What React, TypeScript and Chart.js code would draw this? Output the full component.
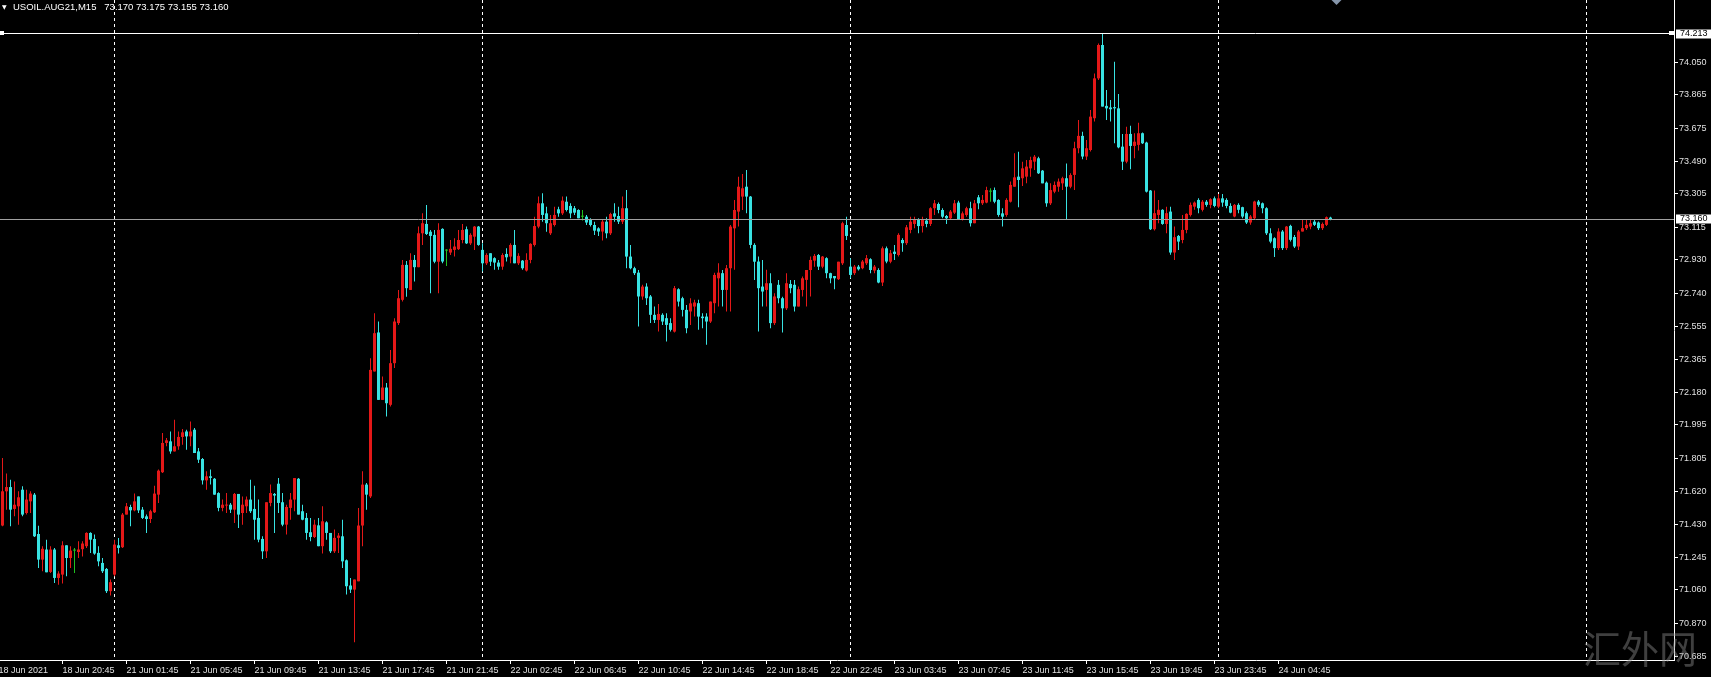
import React, { useEffect, useRef } from "react";
import { Chart, registerables } from "chart.js";

Chart.register(...registerables);

// ---- data (M15 candles, index 0 = 18 Jun 16:45) ----
const opens = [
  71.45, 71.425, 71.619, 71.643, 71.519, 71.534, 71.628, 71.496, 71.562, 71.6,
  71.377, 71.232, 71.289, 71.162, 71.289, 71.128, 71.147, 71.313, 71.241, 71.283,
  71.275, 71.291, 71.308, 71.383, 71.349, 71.27, 71.213, 71.179, 71.053, 71.147,
  71.313, 71.302, 71.487, 71.53, 71.511, 71.59, 71.515, 71.477, 71.462, 71.5,
  71.6, 71.727, 71.893, 71.902, 71.845, 71.874, 71.927, 71.958, 71.93, 71.968,
  71.845, 71.802, 71.681, 71.704, 71.69, 71.609, 71.525, 71.538, 71.543, 71.515,
  71.604, 71.496, 71.534, 71.572, 71.519, 71.468, 71.349, 71.279, 71.553, 71.604,
  71.662, 71.557, 71.43, 71.525, 71.572, 71.69, 71.506, 71.468, 71.387, 71.36,
  71.426, 71.308, 71.443, 71.383, 71.279, 71.355, 71.364, 71.228, 71.085, 71.062,
  71.109, 71.425, 71.657, 71.59, 72.298, 72.519, 72.137, 72.207, 72.109, 72.345,
  72.572, 72.704, 72.902, 72.76, 72.93, 72.889, 73.081, 73.134, 73.09, 73.072,
  72.92, 73.106, 72.983, 72.972, 72.987, 72.991, 73.043, 73.104, 73.024, 73.062,
  73.119, 72.987, 72.911, 72.968, 72.94, 72.915, 72.892, 72.964, 72.949, 73.015,
  72.911, 72.926, 72.87, 72.93, 73.015, 73.119, 73.251, 73.194, 73.081, 73.128,
  73.217, 73.194, 73.26, 73.236, 73.223, 73.213, 73.175, 73.175, 73.157, 73.128,
  73.109, 73.091, 73.147, 73.081, 73.194, 73.179, 73.147, 73.223, 72.949, 72.883,
  72.858, 72.723, 72.779, 72.723, 72.619, 72.59, 72.619, 72.6, 72.572, 72.524,
  72.764, 72.713, 72.647, 72.638, 72.666, 72.685, 72.609, 72.609, 72.581, 72.685,
  72.826, 72.855, 72.76, 72.883, 73.109, 73.204, 73.289, 73.345, 73.289, 73.015,
  72.921, 72.779, 72.76, 72.798, 72.572, 72.789, 72.713, 72.656, 72.794, 72.789,
  72.666, 72.76, 72.817, 72.873, 72.926, 72.958, 72.892, 72.94, 72.855, 72.839,
  72.821, 72.911, 73.128, 72.892, 72.855, 72.892, 72.883, 72.911, 72.934, 72.87,
  72.873, 72.802, 72.996, 72.92, 72.977, 72.958, 73.043, 73.025, 73.1, 73.134,
  73.16, 73.122, 73.153, 73.134, 73.223, 73.247, 73.213, 73.179, 73.166, 73.198,
  73.255, 73.16, 73.185, 73.223, 73.138, 73.285, 73.251, 73.255, 73.317, 73.326,
  73.27, 73.194, 73.185, 73.26, 73.345, 73.402, 73.393, 73.402, 73.449, 73.487,
  73.506, 73.436, 73.368, 73.251, 73.317, 73.345, 73.364, 73.393, 73.345, 73.412,
  73.563, 73.633, 73.516, 73.553, 73.733, 73.959, 74.148, 73.803, 73.794, 73.796,
  73.789, 73.572, 73.487, 73.644, 73.576, 73.582, 73.648, 73.595, 73.323, 73.104,
  73.185, 73.214, 73.134, 73.204, 72.972, 73.066, 73.043, 73.1, 73.185, 73.232,
  73.27, 73.214, 73.26, 73.242, 73.279, 73.232, 73.279, 73.27, 73.236, 73.176,
  73.242, 73.229, 73.195, 73.142, 73.166, 73.261, 73.251, 73.223, 73.081, 73.053,
  72.997, 73.091, 72.997, 73.123, 73.06, 73.006, 73.091, 73.11, 73.119, 73.147,
  73.142, 73.11, 73.129, 73.17,
];

const highs = [
  71.52, 71.808, 71.72, 71.685, 71.675, 71.619, 71.647, 71.628, 71.619, 71.61,
  71.424, 71.308, 71.345, 71.308, 71.298, 71.166, 71.336, 71.313, 71.308, 71.298,
  71.336, 71.336, 71.387, 71.387, 71.374, 71.307, 71.241, 71.185, 71.119, 71.345,
  71.355, 71.496, 71.553, 71.543, 71.606, 71.59, 71.53, 71.487, 71.515, 71.65,
  71.742, 71.949, 71.921, 71.958, 72.025, 71.958, 71.972, 71.968, 72.015, 71.978,
  71.864, 71.808, 71.732, 71.742, 71.694, 71.613, 71.572, 71.609, 71.553, 71.609,
  71.604, 71.59, 71.59, 71.685, 71.651, 71.572, 71.364, 71.557, 71.657, 71.609,
  71.694, 71.609, 71.543, 71.609, 71.694, 71.694, 71.543, 71.496, 71.468, 71.458,
  71.468, 71.534, 71.449, 71.383, 71.402, 71.383, 71.458, 71.232, 71.128, 71.119,
  71.525, 71.732, 71.666, 72.373, 72.628, 72.581, 72.27, 72.232, 72.42, 72.6,
  72.76, 72.93, 72.924, 72.968, 72.958, 73.119, 73.194, 73.242, 73.1, 73.1,
  73.138, 73.109, 72.99, 73.043, 73.053, 73.1, 73.134, 73.119, 73.081, 73.122,
  73.122, 73.025, 72.968, 72.968, 72.945, 72.93, 72.968, 72.996, 73.025, 73.1,
  72.968, 72.93, 72.968, 73.024, 73.175, 73.289, 73.308, 73.232, 73.185, 73.232,
  73.232, 73.289, 73.289, 73.251, 73.236, 73.217, 73.213, 73.185, 73.166, 73.147,
  73.115, 73.157, 73.175, 73.198, 73.251, 73.232, 73.289, 73.326, 73.015, 72.892,
  72.873, 72.789, 72.798, 72.732, 72.666, 72.68, 72.628, 72.628, 72.6, 72.783,
  72.77, 72.722, 72.675, 72.713, 72.704, 72.704, 72.628, 72.628, 72.694, 72.858,
  72.911, 72.873, 72.902, 73.128, 73.27, 73.402, 73.417, 73.44, 73.293, 73.025,
  72.949, 72.93, 72.874, 72.855, 72.741, 72.817, 72.722, 72.855, 72.817, 72.817,
  72.779, 72.836, 72.873, 72.949, 72.964, 72.964, 72.953, 72.945, 72.858, 72.839,
  72.92, 73.147, 73.175, 72.94, 72.902, 72.902, 72.93, 72.958, 72.94, 72.902,
  72.883, 73.006, 73.006, 72.987, 73.015, 73.081, 73.053, 73.128, 73.175, 73.175,
  73.166, 73.175, 73.166, 73.228, 73.27, 73.255, 73.223, 73.185, 73.213, 73.27,
  73.266, 73.204, 73.232, 73.26, 73.27, 73.298, 73.298, 73.345, 73.336, 73.341,
  73.274, 73.223, 73.279, 73.374, 73.534, 73.543, 73.487, 73.496, 73.515, 73.525,
  73.515, 73.44, 73.374, 73.364, 73.374, 73.392, 73.402, 73.477, 73.421, 73.6,
  73.723, 73.657, 73.61, 73.78, 73.987, 74.157, 74.213, 73.893, 73.836, 74.053,
  73.87, 73.644, 73.685, 73.69, 73.648, 73.708, 73.652, 73.6, 73.327, 73.323,
  73.27, 73.217, 73.232, 73.232, 73.119, 73.072, 73.185, 73.195, 73.255, 73.261,
  73.279, 73.27, 73.27, 73.28, 73.289, 73.304, 73.304, 73.279, 73.251, 73.247,
  73.251, 73.232, 73.204, 73.185, 73.265, 73.27, 73.255, 73.229, 73.11, 73.059,
  73.11, 73.1, 73.123, 73.129, 73.072, 73.1, 73.161, 73.157, 73.161, 73.157,
  73.148, 73.142, 73.176, 73.175,
];

const lows = [
  71.4, 71.421, 71.515, 71.421, 71.477, 71.43, 71.477, 71.487, 71.496, 71.36,
  71.185, 71.166, 71.16, 71.156, 71.1, 71.09, 71.096, 71.138, 71.185, 71.156,
  71.241, 71.25, 71.298, 71.27, 71.26, 71.194, 71.156, 71.043, 71.028, 71.138,
  71.266, 71.298, 71.487, 71.421, 71.506, 71.496, 71.462, 71.383, 71.44, 71.496,
  71.553, 71.723, 71.874, 71.832, 71.845, 71.855, 71.883, 71.855, 71.874, 71.836,
  71.779, 71.657, 71.628, 71.657, 71.6, 71.506, 71.506, 71.496, 71.496, 71.44,
  71.411, 71.43, 71.496, 71.496, 71.345, 71.33, 71.236, 71.241, 71.534, 71.383,
  71.496, 71.421, 71.374, 71.458, 71.506, 71.487, 71.455, 71.345, 71.336, 71.355,
  71.308, 71.266, 71.345, 71.27, 71.27, 71.27, 71.185, 71.034, 71.043, 70.764,
  71.109, 71.308, 71.515, 71.581, 72.298, 72.137, 72.137, 72.043, 72.1, 72.317,
  72.562, 72.694, 72.722, 72.76, 72.808, 72.889, 73.015, 73.072, 72.741, 72.911,
  72.741, 72.911, 72.896, 72.958, 72.949, 72.987, 73.024, 73.021, 73.015, 72.987,
  73.01, 72.864, 72.902, 72.896, 72.874, 72.874, 72.874, 72.921, 72.911, 72.911,
  72.902, 72.874, 72.864, 72.911, 73.006, 73.109, 73.147, 73.09, 73.072, 73.119,
  73.175, 73.185, 73.204, 73.166, 73.185, 73.166, 73.153, 73.128, 73.119, 73.072,
  73.066, 73.04, 73.053, 73.072, 73.147, 73.134, 73.134, 72.883, 72.877, 72.845,
  72.553, 72.704, 72.675, 72.572, 72.572, 72.524, 72.562, 72.468, 72.524, 72.519,
  72.666, 72.609, 72.515, 72.562, 72.609, 72.534, 72.543, 72.449, 72.572, 72.628,
  72.666, 72.666, 72.638, 72.638, 72.874, 73.119, 73.213, 73.194, 72.996, 72.817,
  72.524, 72.666, 72.666, 72.543, 72.562, 72.685, 72.519, 72.647, 72.741, 72.638,
  72.666, 72.723, 72.666, 72.723, 72.892, 72.873, 72.883, 72.826, 72.798, 72.764,
  72.817, 72.902, 73.043, 72.826, 72.845, 72.87, 72.877, 72.902, 72.855, 72.855,
  72.798, 72.783, 72.911, 72.911, 72.93, 72.949, 72.977, 73.015, 73.081, 73.109,
  73.081, 73.085, 73.115, 73.122, 73.185, 73.194, 73.166, 73.134, 73.157, 73.19,
  73.157, 73.153, 73.175, 73.119, 73.138, 73.217, 73.242, 73.251, 73.26, 73.251,
  73.175, 73.119, 73.175, 73.255, 73.345, 73.228, 73.349, 73.364, 73.402, 73.44,
  73.417, 73.364, 73.232, 73.242, 73.308, 73.317, 73.327, 73.157, 73.336, 73.327,
  73.534, 73.5, 73.497, 73.544, 73.714, 73.949, 73.799, 73.723, 73.714, 73.591,
  73.563, 73.44, 73.478, 73.444, 73.506, 73.55, 73.587, 73.312, 73.1, 73.097,
  73.138, 73.129, 73.081, 72.959, 72.93, 72.987, 73.025, 73.081, 73.176, 73.214,
  73.195, 73.204, 73.232, 73.223, 73.229, 73.223, 73.232, 73.223, 73.195, 73.172,
  73.195, 73.166, 73.134, 73.129, 73.161, 73.232, 73.195, 73.072, 73.025, 72.946,
  72.987, 72.987, 72.987, 73.034, 72.997, 72.987, 73.091, 73.1, 73.104, 73.123,
  73.1, 73.1, 73.123, 73.155,
];

const closes = [
  71.425, 71.619, 71.643, 71.515, 71.543, 71.585, 71.487, 71.572, 71.606, 71.364,
  71.232, 71.293, 71.16, 71.289, 71.128, 71.153, 71.313, 71.241, 71.283, 71.283,
  71.289, 71.323, 71.383, 71.345, 71.266, 71.222, 71.166, 71.053, 71.104, 71.317,
  71.298, 71.487, 71.534, 71.511, 71.562, 71.511, 71.468, 71.462, 71.506, 71.606,
  71.736, 71.893, 71.908, 71.845, 71.874, 71.927, 71.953, 71.93, 71.958, 71.836,
  71.798, 71.681, 71.704, 71.695, 71.6, 71.525, 71.543, 71.543, 71.515, 71.604,
  71.487, 71.543, 71.572, 71.506, 71.458, 71.345, 71.279, 71.557, 71.609, 71.595,
  71.553, 71.43, 71.53, 71.572, 71.694, 71.487, 71.458, 71.383, 71.36, 71.43,
  71.308, 71.449, 71.383, 71.279, 71.355, 71.368, 71.222, 71.081, 71.062, 71.119,
  71.425, 71.657, 71.6, 72.307, 72.515, 72.137, 72.207, 72.118, 72.345, 72.581,
  72.713, 72.902, 72.77, 72.93, 72.889, 73.081, 73.138, 73.077, 73.066, 72.92,
  73.1, 72.921, 72.983, 72.993, 73.006, 73.043, 73.1, 73.024, 73.072, 73.119,
  73.015, 72.911, 72.958, 72.92, 72.915, 72.892, 72.958, 72.945, 73.015, 72.911,
  72.953, 72.883, 72.93, 73.021, 73.122, 73.251, 73.185, 73.138, 73.138, 73.185,
  73.194, 73.266, 73.213, 73.194, 73.198, 73.166, 73.175, 73.142, 73.128, 73.096,
  73.091, 73.147, 73.081, 73.19, 73.175, 73.147, 73.223, 72.949, 72.883, 72.855,
  72.723, 72.779, 72.713, 72.619, 72.59, 72.624, 72.581, 72.562, 72.534, 72.77,
  72.694, 72.647, 72.543, 72.684, 72.689, 72.609, 72.6, 72.581, 72.694, 72.845,
  72.858, 72.76, 72.883, 73.119, 73.213, 73.345, 73.336, 73.289, 73.015, 72.92,
  72.77, 72.751, 72.798, 72.572, 72.723, 72.713, 72.656, 72.798, 72.77, 72.666,
  72.764, 72.826, 72.873, 72.93, 72.953, 72.892, 72.949, 72.855, 72.826, 72.826,
  72.92, 73.138, 73.066, 72.845, 72.892, 72.877, 72.921, 72.94, 72.873, 72.892,
  72.802, 72.996, 72.921, 72.968, 72.964, 73.072, 73.025, 73.115, 73.147, 73.157,
  73.122, 73.157, 73.134, 73.223, 73.251, 73.213, 73.175, 73.166, 73.204, 73.251,
  73.16, 73.194, 73.223, 73.138, 73.251, 73.251, 73.27, 73.326, 73.317, 73.26,
  73.185, 73.175, 73.27, 73.355, 73.398, 73.383, 73.449, 73.459, 73.496, 73.515,
  73.421, 73.364, 73.251, 73.326, 73.355, 73.374, 73.393, 73.345, 73.411, 73.563,
  73.633, 73.516, 73.563, 73.742, 73.959, 74.148, 73.799, 73.789, 73.784, 73.789,
  73.568, 73.487, 73.644, 73.576, 73.6, 73.648, 73.591, 73.317, 73.104, 73.195,
  73.214, 73.134, 73.195, 72.972, 73.059, 73.034, 73.1, 73.191, 73.242, 73.255,
  73.223, 73.26, 73.242, 73.274, 73.236, 73.279, 73.255, 73.236, 73.198, 73.242,
  73.214, 73.176, 73.142, 73.176, 73.261, 73.242, 73.223, 73.081, 73.034, 72.997,
  73.091, 72.997, 73.119, 73.044, 73.006, 73.091, 73.11, 73.129, 73.138, 73.129,
  73.11, 73.134, 73.172, 73.16,
];

// time axis labels, one every 16 bars starting at bar 0
const timeLabels = [
  "18 Jun 2021", "18 Jun 20:45", "21 Jun 01:45", "21 Jun 05:45", "21 Jun 09:45",
  "21 Jun 13:45", "21 Jun 17:45", "21 Jun 21:45", "22 Jun 02:45", "22 Jun 06:45",
  "22 Jun 10:45", "22 Jun 14:45", "22 Jun 18:45", "22 Jun 22:45", "23 Jun 03:45",
  "23 Jun 07:45", "23 Jun 11:45", "23 Jun 15:45", "23 Jun 19:45", "23 Jun 23:45",
  "24 Jun 04:45",
];
const barsPerTimeLabel = 16;

const priceTicks = [
  74.05, 73.865, 73.675, 73.49, 73.305, 73.115, 72.93, 72.74, 72.555, 72.365,
  72.18, 71.995, 71.805, 71.62, 71.43, 71.245, 71.06, 70.87, 70.685,
];
const priceMin = 70.663;
const priceMax = 74.403;

const hLineLevel = 74.213; // horizontal line object
const bidLevel = 73.16; // current bid
const gridBars = [29, 121, 213, 305, 397]; // vertical dashed grid
const shiftMarkerBar = 334.5;
const barMin = 0.375;
const barMax = 418.875;

const symbolName = "USOIL.AUG21,M15";
const watermark = "汇外网";

const UP = "#e41818";
const DOWN = "#38e2e2";
const DOJI = "#20c020";
const AXIS_FONT = { family: "'Liberation Sans', Arial, sans-serif", size: 9 };

const mt4Plugin = {
  id: "mt4Overlay",
  beforeDatasetsDraw(chart: any) {
    const { ctx, chartArea, scales } = chart;
    const x = scales.x;
    ctx.save();
    ctx.strokeStyle = "#ffffff";
    ctx.lineWidth = 1;
    ctx.setLineDash([3, 3]);
    gridBars.forEach((b) => {
      const px = Math.floor(x.getPixelForValue(b)) + 0.5;
      ctx.beginPath();
      ctx.moveTo(px, chartArea.top);
      ctx.lineTo(px, chartArea.bottom);
      ctx.stroke();
    });
    ctx.restore();
  },
  afterDatasetsDraw(chart: any) {
    const { ctx, chartArea, scales } = chart;
    const y = scales.y;
    const x = scales.x;
    ctx.save();
    ctx.lineWidth = 1;
    const yb = Math.floor(y.getPixelForValue(bidLevel)) + 0.5;
    ctx.strokeStyle = "#a0a0a0";
    ctx.beginPath();
    ctx.moveTo(chartArea.left, yb);
    ctx.lineTo(chartArea.right, yb);
    ctx.stroke();
    const yh = Math.floor(y.getPixelForValue(hLineLevel)) + 0.5;
    ctx.strokeStyle = "#ffffff";
    ctx.beginPath();
    ctx.moveTo(chartArea.left, yh);
    ctx.lineTo(chartArea.right, yh);
    ctx.stroke();
    ctx.fillStyle = "#ffffff";
    ctx.fillRect(chartArea.left, yh - 2.5, 4, 4);
    ctx.fillRect(chartArea.right - 5, yh - 2.5, 5, 4);
    const sx = x.getPixelForValue(shiftMarkerBar);
    ctx.fillStyle = "#8595aa";
    ctx.beginPath();
    ctx.moveTo(sx - 5, chartArea.top);
    ctx.lineTo(sx + 5, chartArea.top);
    ctx.lineTo(sx, chartArea.top + 5);
    ctx.closePath();
    ctx.fill();
    ctx.restore();
  },
  afterDraw(chart: any) {
    const { ctx, chartArea, scales } = chart;
    const y = scales.y;
    ctx.save();
    ctx.font = "9px 'Liberation Sans', Arial, sans-serif";
    ctx.textBaseline = "middle";
    ctx.textAlign = "left";
    [hLineLevel, bidLevel].forEach((lvl) => {
      const py = y.getPixelForValue(lvl);
      ctx.fillStyle = "#ffffff";
      ctx.fillRect(chartArea.right + 2, Math.round(py) - 4.5, 37, 9);
      ctx.fillStyle = "#000000";
      ctx.fillText(lvl.toFixed(3), chartArea.right + 6, Math.round(py));
    });
    ctx.restore();
  },
};

export default function App() {
  const canvasRef = useRef<HTMLCanvasElement | null>(null);

  useEffect(() => {
    const idx = opens.map((_, i) => i);
    const colors = idx.map((i) =>
      closes[i] > opens[i] ? UP : closes[i] < opens[i] ? DOWN : DOJI
    );
    const chart = new Chart(canvasRef.current as HTMLCanvasElement, {
      type: "bar",
      data: {
        datasets: [
          {
            label: "wick",
            data: idx.map((i) => ({ x: i, y: [lows[i], highs[i]] })) as any,
            backgroundColor: colors,
            barThickness: 1,
            grouped: false,
            borderWidth: 0,
            inflateAmount: 0,
            minBarLength: 1,
          } as any,
          {
            label: "body",
            data: idx.map((i) => ({ x: i, y: [opens[i], closes[i]] })) as any,
            backgroundColor: colors,
            barThickness: 3,
            grouped: false,
            borderWidth: 0,
            inflateAmount: 0,
            minBarLength: 1,
          } as any,
        ],
      },
      options: {
        responsive: false,
        animation: false,
        devicePixelRatio: 1,
        layout: { padding: 0 },
        plugins: {
          legend: { display: false },
          tooltip: { enabled: false },
        },
        scales: {
          x: {
            type: "linear",
            min: barMin,
            max: barMax,
            offset: false,
            grid: {
              display: true,
              drawOnChartArea: false,
              drawTicks: true,
              tickLength: 4,
              color: "#ffffff",
              offset: false,
            },
            border: { display: true, color: "#ffffff" },
            ticks: {
              autoSkip: false,
              maxRotation: 0,
              minRotation: 0,
              align: "start",
              padding: 1,
              color: "#e0e0e0",
              font: AXIS_FONT,
              callback: (_v: any, i: number) => timeLabels[i] ?? "",
            },
            afterBuildTicks: (s: any) => {
              s.ticks = timeLabels.map((_, k) => ({ value: k * barsPerTimeLabel }));
            },
            afterFit: (s: any) => {
              s.height = 17;
              s.paddingLeft = 0;
              s.paddingRight = 0;
              s.paddingTop = 0;
              s.paddingBottom = 0;
            },
          } as any,
          y: {
            type: "linear",
            position: "right",
            min: priceMin,
            max: priceMax,
            grid: {
              display: true,
              drawOnChartArea: false,
              drawTicks: true,
              tickLength: 4,
              color: "#ffffff",
            },
            border: { display: true, color: "#ffffff" },
            ticks: {
              padding: 1,
              color: "#e0e0e0",
              font: AXIS_FONT,
              callback: (v: any) => Number(v).toFixed(3),
            },
            afterBuildTicks: (s: any) => {
              s.ticks = priceTicks.map((v) => ({ value: v }));
            },
            afterFit: (s: any) => {
              s.width = 37;
              s.paddingTop = 0;
              s.paddingBottom = 0;
              s.paddingLeft = 0;
              s.paddingRight = 0;
            },
          } as any,
        },
      },
      plugins: [mt4Plugin],
    });
    return () => chart.destroy();
  }, []);

  const last = opens.length - 1;
  const ohlc = [opens[last], highs[last], lows[last], closes[last]]
    .map((v) => v.toFixed(3))
    .join(" ");

  return (
    <div
      style={{
        position: "fixed",
        left: 0,
        top: 0,
        width: 1711,
        height: 677,
        background: "#000",
        overflow: "hidden",
      }}
    >
      <canvas
        ref={canvasRef}
        width={1711}
        height={677}
        style={{ display: "block", width: 1711, height: 677 }}
      />
      <div
        style={{
          position: "absolute",
          left: 2,
          top: 1,
          color: "#fff",
          font: "6px 'DejaVu Sans', sans-serif",
          lineHeight: "12px",
        }}
      >
        ▼
      </div>
      <div
        style={{
          position: "absolute",
          left: 13,
          top: 1,
          color: "#fff",
          font: "9.5px 'Liberation Sans', Arial, sans-serif",
          lineHeight: "12px",
          whiteSpace: "pre",
        }}
      >
        {symbolName + "   " + ohlc}
      </div>
      <div
        style={{
          position: "absolute",
          left: 1583,
          top: 628,
          color: "rgba(140,140,140,0.45)",
          font: "38px 'Noto Sans CJK SC', sans-serif",
          lineHeight: "38px",
          whiteSpace: "pre",
        }}
      >
        {watermark}
      </div>
    </div>
  );
}
